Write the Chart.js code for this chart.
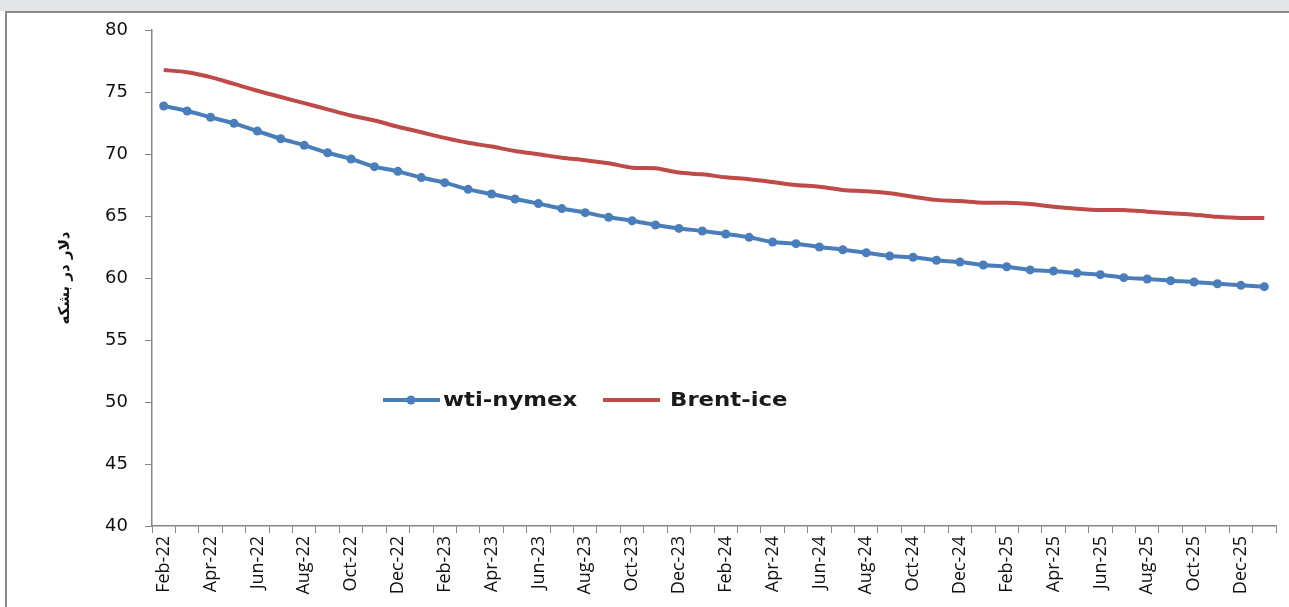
<!DOCTYPE html>
<html>
<head>
<meta charset="utf-8">
<script src="https://cdn.jsdelivr.net/npm/chart.js@4.4.1/dist/chart.umd.min.js"></script>
<style>
html, body { margin: 0; padding: 0; background: #fff; }
body { width: 1289px; height: 607px; position: relative; overflow: hidden; }
#band { position: absolute; left: 0; top: 0; width: 1289px; height: 11px; background: #e4e5e7; }
#frame { position: absolute; left: 5px; top: 11px; width: 1300px; height: 620px; border-left: 2px solid #8a8a8a; border-top: 2px solid #8a8a8a; }
#chart { position: absolute; left: 0; top: 0; }
</style>
</head>
<body>
<div id="band"></div>
<div id="frame"></div>
<canvas id="chart" width="1289" height="607"></canvas>
<script>
// monthly futures curve, Feb-22 .. Jan-26
var months = [
  'Feb-22','Mar-22','Apr-22','May-22','Jun-22','Jul-22','Aug-22','Sep-22','Oct-22','Nov-22','Dec-22','Jan-23',
  'Feb-23','Mar-23','Apr-23','May-23','Jun-23','Jul-23','Aug-23','Sep-23','Oct-23','Nov-23','Dec-23','Jan-24',
  'Feb-24','Mar-24','Apr-24','May-24','Jun-24','Jul-24','Aug-24','Sep-24','Oct-24','Nov-24','Dec-24','Jan-25',
  'Feb-25','Mar-25','Apr-25','May-25','Jun-25','Jul-25','Aug-25','Sep-25','Oct-25','Nov-25','Dec-25','Jan-26'
];

var wti = [
  73.87, 73.47, 72.96, 72.47, 71.85, 71.23, 70.70, 70.10, 69.60, 68.98, 68.60, 68.10,
  67.69, 67.15, 66.77, 66.37, 66.00, 65.60, 65.27, 64.90, 64.62, 64.27, 64.00, 63.79,
  63.55, 63.28, 62.90, 62.77, 62.50, 62.28, 62.04, 61.77, 61.67, 61.43, 61.29, 61.05,
  60.91, 60.65, 60.56, 60.40, 60.27, 60.03, 59.92, 59.78, 59.68, 59.54, 59.41, 59.30
];

var brent = [
  76.77, 76.60, 76.20, 75.65, 75.10, 74.60, 74.10, 73.60, 73.10, 72.70, 72.20, 71.75,
  71.30, 70.90, 70.60, 70.24, 69.98, 69.70, 69.50, 69.25, 68.90, 68.85, 68.50, 68.36,
  68.12, 67.96, 67.74, 67.50, 67.36, 67.10, 66.99, 66.83, 66.56, 66.30, 66.20, 66.07,
  66.07, 65.97, 65.75, 65.59, 65.48, 65.48, 65.35, 65.22, 65.10, 64.94, 64.84, 64.84
];

var seriesNames = ['wti-nymex', 'Brent-ice'];
var yTitle = 'دلار در بشکه';

var axisGray = '#868686';

// legend sits inside the plot, like the Excel original
var insideLegend = {
  id: 'insideLegend',
  afterDraw: function (chart) {
    var c = chart.ctx, a = chart.chartArea;
    var y = a.top + 370;
    var spots = [[a.left + 231, a.left + 291], [a.left + 451, a.left + 518]];
    c.save();
    chart.data.datasets.forEach(function (ds, i) {
      var x0 = spots[i][0];
      c.strokeStyle = ds.borderColor;
      c.lineWidth = 4;
      c.beginPath();
      c.moveTo(x0, y);
      c.lineTo(x0 + 57, y);
      c.stroke();
      if (ds.pointRadius > 0) {
        c.fillStyle = ds.borderColor;
        c.beginPath();
        c.arc(x0 + 28, y, 4.5, 0, Math.PI * 2);
        c.fill();
      }
      // text in the source is a bit wider than DejaVu, so stretch it
      c.save();
      c.translate(spots[i][1], y + 1);
      c.scale(1.2, 1);
      c.fillStyle = '#1a1a1a';
      c.font = 'bold 19px "DejaVu Sans"';
      c.textBaseline = 'middle';
      c.textAlign = 'left';
      c.fillText(ds.label, 0, 0);
      c.restore();
    });
    c.restore();
  }
};

var ctx = document.getElementById('chart').getContext('2d');
var oilChart = new Chart(ctx, {
  type: 'line',
  data: {
    labels: months,
    datasets: [
      {
        label: seriesNames[0],
        data: wti,
        borderColor: '#4a7ebb',
        backgroundColor: '#4a7ebb',
        borderWidth: 4,
        pointRadius: 4.5,
        pointBorderWidth: 0,
        pointBackgroundColor: '#4a7ebb',
        tension: 0.3
      },
      {
        label: seriesNames[1],
        data: brent,
        borderColor: '#be4b48',
        backgroundColor: '#be4b48',
        borderWidth: 4,
        pointRadius: 0,
        tension: 0.3
      }
    ]
  },
  options: {
    responsive: false,
    animation: false,
    layout: { padding: { top: 30, right: 8, left: 0, bottom: 0 } },
    plugins: {
      legend: { display: false },
      tooltip: { enabled: false }
    },
    scales: {
      x: {
        offset: true,
        grid: { offset: true, drawOnChartArea: false, color: axisGray, tickLength: 7 },
        border: { color: axisGray, width: 1.5 },
        ticks: {
          autoSkip: false,
          maxRotation: 90,
          minRotation: 90,
          padding: 3,
          color: '#111',
          font: { family: 'Open Sans', size: 18 },
          callback: function (v, i) { return i % 2 === 0 ? this.getLabelForValue(v) : ''; }
        },
        afterFit: function (s) { s.height = 81; }
      },
      y: {
        min: 40,
        max: 80,
        grid: { drawOnChartArea: false, color: axisGray, tickLength: 7 },
        border: { color: axisGray, width: 1.5 },
        ticks: {
          stepSize: 5,
          padding: 17,
          color: '#111',
          font: { family: 'DejaVu Sans', size: 18 }
        },
        title: {
          display: true,
          text: yTitle,
          color: '#111',
          font: { family: 'DejaVu Sans', size: 15, weight: 'bold' },
          padding: { top: 56, bottom: 0 }
        },
        afterFit: function (s) { s.width = 152; }
      }
    }
  },
  plugins: [insideLegend]
});
</script>
</body>
</html>
